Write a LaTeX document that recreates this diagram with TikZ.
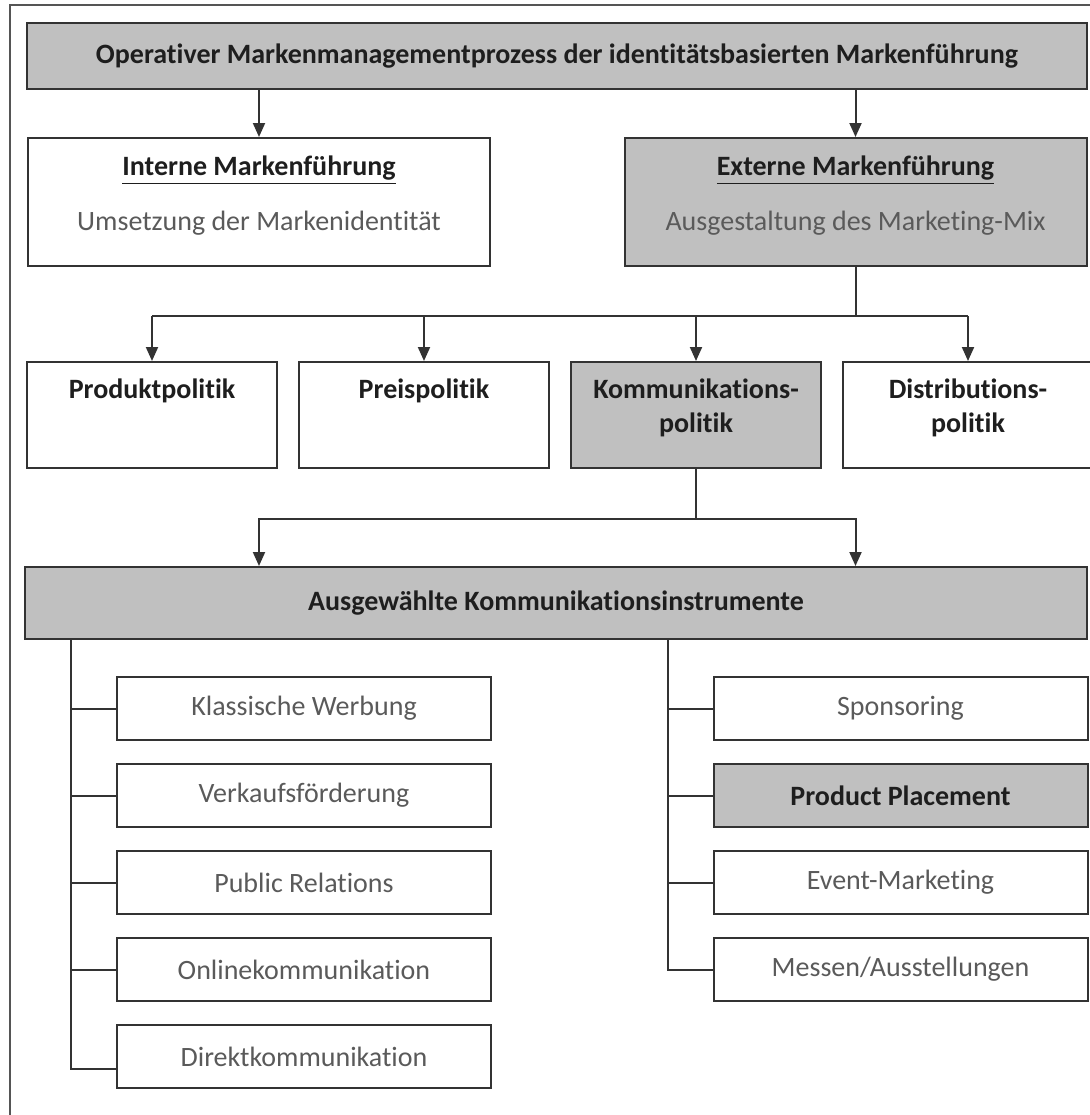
\documentclass[tikz,border=0pt]{standalone}
\usepackage{fontspec}
\setmainfont{Carlito}[Ligatures=NoCommon]
\usepackage{xcolor}
\definecolor{Grau}{HTML}{C0C0C0}
\definecolor{Linie}{HTML}{333333}
\definecolor{Rahmen}{HTML}{555555}
\definecolor{Schrift}{HTML}{5A5A5A}
\definecolor{Titel}{HTML}{1E1E1E}
\usepackage{tikz}
\usetikzlibrary{arrows.meta,positioning}

\begin{document}
\begin{tikzpicture}[x=0.5pt,y=-0.5pt,node distance=11pt and 10pt,
  every node/.style={font=\fontsize{14}{17}\selectfont,align=center,text=Schrift},
  box/.style={draw=Linie,line width=1pt,inner sep=0pt},
  grau/.style={box,fill=Grau},
  kopf/.style={font=\fontsize{14}{17}\selectfont\bfseries,text=Titel},
  oben/.style={text height=18.2pt,text depth=34.8pt,minimum width=125pt},
  oben2/.style={text height=35.2pt,text depth=17.8pt,minimum width=125pt},
  mix/.style={text height=46.2pt,text depth=17.8pt,minimum width=231pt},
  instr/.style={box,minimum width=187pt,minimum height=31.5pt},
  linie/.style={draw=Linie,line width=1pt},
  pfeil/.style={linie,-{Triangle[length=7pt,width=6pt]}}]
\useasboundingbox (0,0) rectangle (1090,1115);
\draw[draw=Rahmen,line width=1pt] (10,1115) |- (1090,5);

\node[grau,kopf,minimum width=530pt,minimum height=33pt] (op) at (557,56) {Operativer Markenmanagementprozess der identitätsbasierten Markenführung};
\node[box,mix] (int) at (259,202) {\textcolor{Titel}{\bfseries\underline{Interne Markenführung}}\\[10.5pt]Umsetzung der Markenidentität};
\node[grau,mix] (ext) at (855.5,202) {\textcolor{Titel}{\bfseries\underline{Externe Markenführung}}\\[10.5pt]Ausgestaltung des Marketing-Mix};

\node[box,kopf,oben] (prod) at (152,415) {Produktpolitik};
\node[box,kopf,oben,right=of prod] (preis) {Preispolitik};
\node[grau,kopf,oben2,right=of preis] (komm) {Kommunikations-\\politik};
\node[box,kopf,oben2,right=of komm] (dist) {Distributions-\\politik};

\node[grau,kopf,minimum width=531pt,minimum height=36pt] (instr) at (556,603) {Ausgewählte Kommunikationsinstrumente};

% linke Spalte
\node[instr] (klass) at (304,708.5) {Klassische Werbung};
\node[instr,below=of klass] (vkf) {Verkaufsförderung};
\node[instr,below=of vkf] (pr) {Public Relations};
\node[instr,below=of pr] (online) {Onlinekommunikation};
\node[instr,below=of online] (direkt) {Direktkommunikation};
% rechte Spalte
\node[instr] (spons) at (900.5,708.5) {Sponsoring};
\node[instr,grau,kopf,below=of spons] (pp) {Product Placement};
\node[instr,below=of pp] (event) {Event-Marketing};
\node[instr,below=of event] (messe) {Messen/Ausstellungen};

\coordinate (h1) at (0,316);
\coordinate (h2) at (0,519);
\coordinate (lx) at (71,0);
\coordinate (rx) at (668,0);

\draw[pfeil] (op.south -| int.north) -- (int.north);
\draw[pfeil] (op.south -| ext.north) -- (ext.north);
\draw[linie] (ext.south) -- (ext.south |- h1);
\draw[linie] (prod.north |- h1) -- (dist.north |- h1);
\foreach \z in {prod,preis,komm,dist}
  \draw[pfeil] (\z.north |- h1) -- (\z.north);
\draw[linie] (komm.south) -- (komm.south |- h2);
\draw[pfeil] (komm.south |- h2) -| (instr.north -| int.south);
\draw[pfeil] (komm.south |- h2) -| (instr.north -| ext.south);

\draw[linie] (instr.south -| lx) |- ([yshift=-6pt]direkt.west);
\foreach \z in {klass,vkf,pr,online}
  \draw[linie] (lx |- \z.west) -- (\z.west);
\draw[linie] (instr.south -| rx) |- (messe.west);
\foreach \z in {spons,pp,event}
  \draw[linie] (rx |- \z.west) -- (\z.west);
\end{tikzpicture}
\end{document}
